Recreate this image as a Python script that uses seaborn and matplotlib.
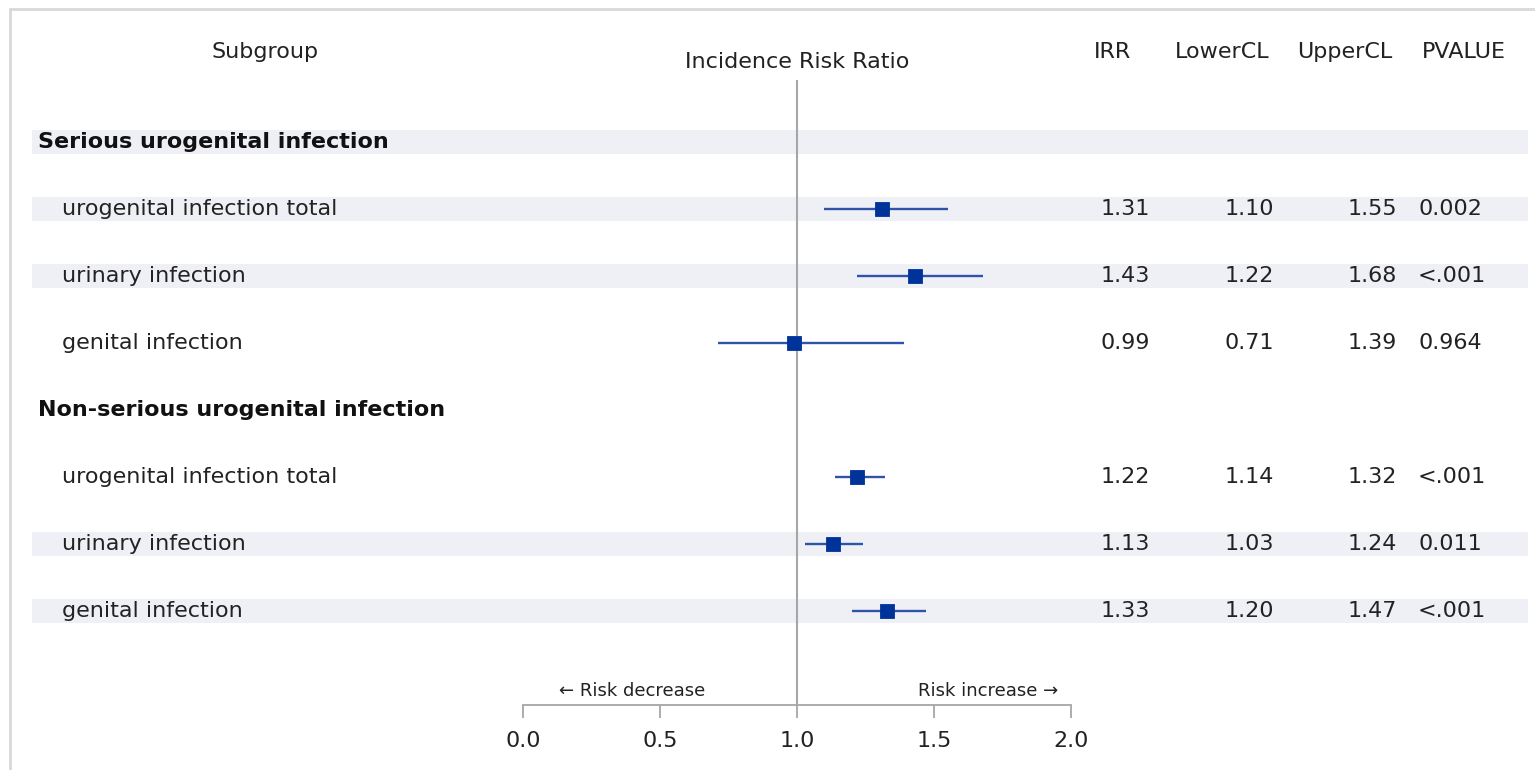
import matplotlib
matplotlib.use("Agg")
import matplotlib.pyplot as plt
import seaborn as sns
import pandas as pd
from matplotlib.lines import Line2D
import matplotlib.transforms as mtransforms

# ---------------- data ----------------
labels = ["Serious urogenital infection", "urogenital infection total", "urinary infection",
          "genital infection", "Non-serious urogenital infection", "urogenital infection total",
          "urinary infection", "genital infection"]
is_header = [True, False, False, False, True, False, False, False]
shaded = [True, True, True, False, False, False, True, True]
irr = [None, 1.31, 1.43, 0.99, None, 1.22, 1.13, 1.33]
lower = [None, 1.10, 1.22, 0.71, None, 1.14, 1.03, 1.20]
upper = [None, 1.55, 1.68, 1.39, None, 1.32, 1.24, 1.47]
pvalue = ["", "0.002", "<.001", "0.964", "", "<.001", "0.011", "<.001"]
col_headers = ["IRR", "LowerCL", "UpperCL", "PVALUE"]
x_ticks = [0.0, 0.5, 1.0, 1.5, 2.0]
x_ticklabels = ["0.0", "0.5", "1.0", "1.5", "2.0"]

rows = list(range(len(labels)))
df = pd.DataFrame({"row": rows, "label": labels, "irr": irr, "lower": lower,
                   "upper": upper, "pvalue": pvalue})
df_pts = df.dropna(subset=["irr"]).astype({"irr": float, "lower": float, "upper": float})

# ---------------- layout ----------------
W, H = 1535, 770
DPI = 100
sns.set_theme(style="white")
plt.rcParams["font.family"] = ["DejaVu Sans"]

fig = plt.figure(figsize=(W / DPI, H / DPI), dpi=DPI)
fig.patch.set_facecolor("white")

ax_left_px, ax_right_px = 32, 1528
ax_top_px, ax_bot_px = 80, 705
ax = fig.add_axes([ax_left_px / W, 1 - ax_bot_px / H,
                   (ax_right_px - ax_left_px) / W, (ax_bot_px - ax_top_px) / H])

px_per_unit = 274.0
x0_px = 523.0
ax.set_xlim((ax_left_px - x0_px) / px_per_unit, (ax_right_px - x0_px) / px_per_unit)
row_px = 67.0
first_row_px = 142.0
ylim_top = -(first_row_px - ax_top_px) / row_px
ylim_bot = (len(labels) - 1) + (ax_bot_px - (first_row_px + row_px * (len(labels) - 1))) / row_px
ax.set_ylim(ylim_bot, ylim_top)

# bands
band_col = "#eff0f6"
for r, s in zip(rows, shaded):
    if s:
        ax.axhspan(r - 0.18, r + 0.18, color=band_col, lw=0, zorder=0)

# reference line
ax.axvline(1.0, color="#a6a6a6", lw=1.5, zorder=1)

# CIs
ax.hlines(df_pts["row"], df_pts["lower"], df_pts["upper"], color="#2f53a8", lw=1.7, zorder=2)
sns.scatterplot(data=df_pts, x="irr", y="row", marker="s", s=115, color="#003399",
                edgecolor="#003399", linewidth=0.6, ax=ax, zorder=3, legend=False)

# axis styling
for sp in ["top", "right", "left"]:
    ax.spines[sp].set_visible(False)
ax.spines["bottom"].set_bounds(0, 2)
ax.spines["bottom"].set_color("#a6a6a6")
ax.spines["bottom"].set_linewidth(1.3)
ax.set_xticks(x_ticks)
ax.set_xticklabels(x_ticklabels, fontsize=16, color="#222222")
ax.tick_params(axis="x", direction="out", length=9, width=1.3, color="#a6a6a6", pad=10, bottom=True)
ax.set_yticks([])
ax.set_xlabel("")
ax.set_ylabel("")
ax.set_facecolor("none")

tr = mtransforms.blended_transform_factory(fig.transFigure, ax.transData)
fs = 16
for r, lab, hd in zip(rows, labels, is_header):
    if hd:
        ax.text(38 / W, r, lab, transform=tr, ha="left", va="center", fontsize=fs,
                fontweight="bold", color="#111111")
    else:
        ax.text(62 / W, r, lab, transform=tr, ha="left", va="center", fontsize=fs, color="#222222")

for _, row in df_pts.iterrows():
    r = row["row"]
    ax.text(1150 / W, r, f"{row['irr']:.2f}", transform=tr, ha="right", va="center", fontsize=fs, color="#222222")
    ax.text(1274 / W, r, f"{row['lower']:.2f}", transform=tr, ha="right", va="center", fontsize=fs, color="#222222")
    ax.text(1397 / W, r, f"{row['upper']:.2f}", transform=tr, ha="right", va="center", fontsize=fs, color="#222222")
    ax.text(1418 / W, r, row["pvalue"], transform=tr, ha="left", va="center", fontsize=fs, color="#222222")

def fig_text(xp, yp, s, **kw):
    fig.text(xp / W, 1 - yp / H, s, **kw)

fig_text(265, 52, "Subgroup", ha="center", va="center", fontsize=fs, color="#222222")
fig_text(797, 62, "Incidence Risk Ratio", ha="center", va="center", fontsize=fs, color="#222222")
for xp, h in zip([1113, 1222, 1345, 1464], col_headers):
    fig_text(xp, 52, h, ha="center", va="center", fontsize=fs, color="#222222")

# direction labels
fig_text(632, 691, "\u2190 Risk decrease", ha="center", va="center", fontsize=13, color="#222222")
fig_text(988, 691, "Risk increase \u2192", ha="center", va="center", fontsize=13, color="#222222")

# partial frame (left and top)
fig.add_artist(Line2D([10 / W, 10 / W], [0, 1 - 9 / H], transform=fig.transFigure,
                      color="#d8d8d8", lw=2))
fig.add_artist(Line2D([10 / W, 1], [1 - 9 / H, 1 - 9 / H], transform=fig.transFigure,
                      color="#d8d8d8", lw=2))

fig.savefig("out.png", dpi=DPI)
